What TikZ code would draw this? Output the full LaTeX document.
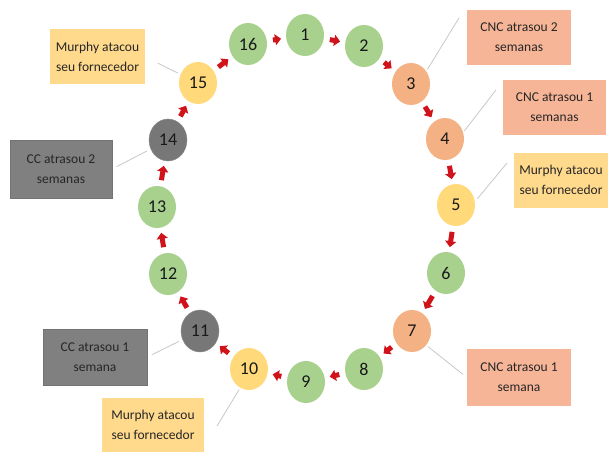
\documentclass[tikz,border=0pt]{standalone}
\usepackage{fontspec}
\setmainfont{Carlito}
\usetikzlibrary{shapes.geometric,arrows.meta}
\definecolor{cgreen}{HTML}{A9D18E}
\definecolor{csalmon}{HTML}{F4B183}
\definecolor{cyellow}{HTML}{FFD97A}
\definecolor{cgray}{HTML}{777777}
\definecolor{bsalmon}{HTML}{F7B597}
\definecolor{byellow}{HTML}{FFD98C}
\definecolor{bgray}{HTML}{808080}
\definecolor{lgray}{HTML}{C8C8C8}
\definecolor{ared}{HTML}{D0121B}
\tikzset{
  circ/.style={ellipse, minimum width=38pt, minimum height=42pt, inner sep=0pt,
    font=\fontsize{18}{18}\selectfont, text=black!90},
  gc/.style={circ, fill=cgreen},
  sc/.style={circ, fill=csalmon},
  yc/.style={circ, fill=cyellow},
  kc/.style={circ, fill=cgray, draw=black!45, line width=0.4pt},
  box/.style={rectangle, minimum width=104pt, minimum height=56pt, inner sep=1pt,
    align=center, font=\fontsize{13.5}{20}\selectfont, text=black!85},
  sbox/.style={box, fill=bsalmon},
  ybox/.style={box, fill=byellow},
  kbox/.style={box, fill=bgray, draw=black!55, line width=0.5pt},
  flow/.style={draw=ared, line width=5pt, -{Triangle[length=6pt,width=11pt]}, shorten <=6pt, shorten >=5pt},
  lead/.style={draw=lgray, line width=0.8pt}
}
\begin{document}
\begin{tikzpicture}[x=1pt,y=-1pt]
\path[use as bounding box, fill=white] (0,0) rectangle (608,452);
% circles
\node[gc] (c1)  at (305,35) {1};
\node[gc] (c2)  at (364,46) {2};
\node[sc] (c3)  at (411,84) {3};
\node[sc] (c4)  at (445,139) {4};
\node[yc] (c5)  at (456,205) {5};
\node[gc] (c6)  at (446,273) {6};
\node[sc] (c7)  at (412,331) {7};
\node[gc] (c8)  at (364,369) {8};
\node[gc] (c9)  at (306,382) {9};
\node[yc] (c10) at (249,369) {10};
\node[kc] (c11) at (200,331) {11};
\node[gc] (c12) at (168,274) {12};
\node[gc] (c13) at (157,207) {13};
\node[kc] (c14) at (168,140) {14};
\node[yc] (c15) at (198,83) {15};
\node[gc] (c16) at (248,44) {16};
% flow markers
\foreach \a/\b in {1/2,2/3,3/4,4/5,5/6,6/7,7/8,8/9,9/10,10/11,11/12,12/13,13/14,14/15,15/16,16/1}
  \draw[flow] (c\a) -- (c\b);
% boxes
\node[ybox, minimum width=95pt, minimum height=55pt] (m1) at (97.5,57) {Murphy atacou\\seu fornecedor};
\node[kbox, minimum width=102pt, minimum height=58pt] (cc2) at (61,169) {CC atrasou 2\\semanas};
\node[sbox, minimum height=55pt] (cnc2) at (519,37.5) {CNC atrasou 2\\semanas};
\node[sbox, minimum width=103pt, minimum height=55pt] (cnc1s) at (554.5,107.5) {CNC atrasou 1\\semanas};
\node[ybox, minimum width=94pt, minimum height=55pt] (m2) at (561,180) {Murphy atacou\\seu fornecedor};
\node[kbox, minimum height=56pt] (cc1) at (95,357) {CC atrasou 1\\semana};
\node[ybox, minimum width=102pt, minimum height=54pt] (m3) at (153,425) {Murphy atacou\\seu fornecedor};
\node[sbox, minimum height=57pt] (cnc1) at (519,377.5) {CNC atrasou 1\\semana};
% leader lines
\coordinate (k3) at (459,18);
\coordinate (k4) at (496,90);
\coordinate (k5) at (507,163);
\coordinate (k10) at (217,426);
\draw[lead, shorten <=14pt, shorten >=3pt] (m1.east) -- (c15);
\draw[lead, shorten <=5pt, shorten >=4pt] (cc2.east) -- (c14);
\draw[lead, shorten <=2pt] (c3.40) -- (k3);
\draw[lead, shorten <=2pt] (c4.20) -- (k4);
\draw[lead, shorten <=4pt] (c5.10) -- (k5);
\draw[lead, shorten <=5pt, shorten >=4pt] (cc1.east) -- (c11);
\draw[lead, shorten <=2pt] (c10.245) -- (k10);
\draw[lead, shorten <=2pt, shorten >=5pt] (c7.-45) -- (cnc1.west);
\end{tikzpicture}
\end{document}
